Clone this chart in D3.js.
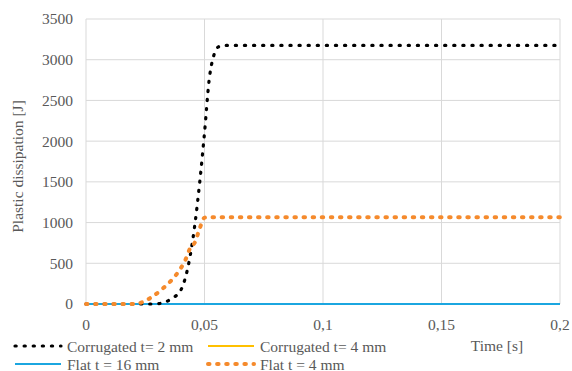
<!DOCTYPE html>
<html>
<head>
<meta charset="utf-8">
<script src="https://cdn.jsdelivr.net/npm/d3@7"></script>
<style>
  body { margin: 0; background: #fff; }
</style>
</head>
<body>
<div id="chart"></div>
<script>
// time axis (s)
const time = [0, 0.01, 0.02, 0.024, 0.028, 0.032, 0.036, 0.04, 0.042, 0.044, 0.046, 0.048,
  0.05, 0.052, 0.054, 0.056, 0.058, 0.06, 0.08, 0.1, 0.12, 0.14, 0.16, 0.18, 0.2];

// plastic dissipation (J)
const corrugated2 = [0, 0, 0, 0, 0, 10, 65, 170, 330, 600, 990, 1500,
  2100, 2760, 3060, 3160, 3175, 3175, 3175, 3175, 3175, 3175, 3175, 3175, 3175];
const corrugated4 = [0, 0, 0, 0, 0, 0, 0, 0, 0, 0, 0, 0,
  0, 0, 0, 0, 0, 0, 0, 0, 0, 0, 0, 0, 0];
const flat16 = [0, 0, 0, 0, 0, 0, 0, 0, 0, 0, 0, 0,
  0, 0, 0, 0, 0, 0, 0, 0, 0, 0, 0, 0, 0];
const flat4 = [0, 0, 0, 25, 90, 180, 290, 440, 545, 690, 760, 930,
  1060, 1065, 1065, 1065, 1065, 1065, 1065, 1065, 1065, 1065, 1065, 1065, 1065];

const xTicks = [0, 0.05, 0.1, 0.15, 0.2];
const xTickLabels = ["0", "0,05", "0,1", "0,15", "0,2"];
const yTicks = [0, 500, 1000, 1500, 2000, 2500, 3000, 3500];

const series = [
  { name: "Corrugated t= 2 mm", values: corrugated2, color: "#000000", dash: "1.2 7.9", width: 3.2 },
  { name: "Corrugated t= 4 mm", values: corrugated4, color: "#FFC000", dash: null, width: 2.2 },
  { name: "Flat t = 16 mm", values: flat16, color: "#1BA6E0", dash: null, width: 2.2 },
  { name: "Flat t = 4 mm", values: flat4, color: "#F58A2C", dash: "1.5 7.6", width: 4 }
];

const width = 572, height = 371;
const margin = { top: 19, right: 12, bottom: 67, left: 86 };

const svg = d3.select("#chart").append("svg")
  .attr("width", width)
  .attr("height", height);

const x = d3.scaleLinear().domain([0, 0.2]).range([margin.left, width - margin.right]);
const y = d3.scaleLinear().domain([0, 3500]).range([height - margin.bottom, margin.top]);

// text drawn at 18px then scaled down to ~15.5px
const k = 15.5 / 18;
function addLabel(parent, tx, ty, str, anchor, rot, dy) {
  const g = parent.append("g")
    .attr("transform", `translate(${tx},${ty})${rot ? ` rotate(${rot})` : ""} scale(${k})`);
  g.append("text")
    .attr("text-anchor", anchor || "start")
    .attr("dy", dy || null)
    .style("font-family", '"Liberation Serif"')
    .style("font-size", "18px")
    .style("fill", "#595959")
    .text(str);
}

// grid
svg.append("g")
  .selectAll("line.h")
  .data(yTicks)
  .enter().append("line")
  .attr("x1", x(0)).attr("x2", x(0.2))
  .attr("y1", d => y(d)).attr("y2", d => y(d))
  .attr("stroke", "#d9d9d9").attr("stroke-width", 1);

svg.append("g")
  .selectAll("line.v")
  .data(xTicks)
  .enter().append("line")
  .attr("x1", d => x(d)).attr("x2", d => x(d))
  .attr("y1", y(0)).attr("y2", y(3500))
  .attr("stroke", "#d9d9d9").attr("stroke-width", 1);

// tick labels
yTicks.forEach(d => addLabel(svg, 73, y(d), String(d), "end", 0, "0.35em"));
xTicks.forEach((d, i) => addLabel(svg, x(d), 330, xTickLabels[i], "middle"));

// axis titles
addLabel(svg, 23, (y(0) + y(3500)) / 2 + 5, "Plastic dissipation [J]", "middle", -90);
addLabel(svg, 497, 351, "Time [s]", "middle");

// lines
const line = d3.line()
  .x((d, i) => x(time[i]))
  .y(d => y(d))
  .curve(d3.curveMonotoneX);

const drawOrder = [1, 2, 0, 3];
drawOrder.forEach(j => {
  const s = series[j];
  svg.append("path")
    .datum(s.values)
    .attr("d", line)
    .attr("fill", "none")
    .attr("stroke", s.color)
    .attr("stroke-width", s.width)
    .attr("stroke-linecap", s.dash ? "round" : "butt")
    .attr("stroke-dasharray", s.dash);
});

// legend
const legendPos = [[15, 346], [208, 346], [15, 364], [208, 364]];
series.forEach((s, i) => {
  const g = svg.append("g").attr("transform", `translate(${legendPos[i][0]}, ${legendPos[i][1]})`);
  g.append("line")
    .attr("x1", 0).attr("x2", 46)
    .attr("y1", 0).attr("y2", 0)
    .attr("stroke", s.color)
    .attr("stroke-width", s.width)
    .attr("stroke-linecap", s.dash ? "round" : "butt")
    .attr("stroke-dasharray", s.dash);
  addLabel(g, 52, 6, s.name, "start");
});
</script>
</body>
</html>
